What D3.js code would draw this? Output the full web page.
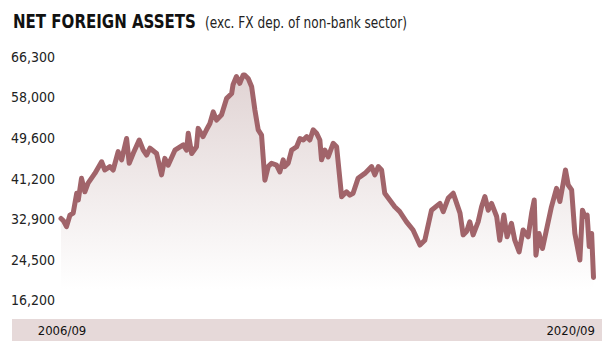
<!DOCTYPE html>
<html>
<head>
<meta charset="utf-8">
<script src="https://cdn.jsdelivr.net/npm/d3@7"></script>
<style>
  html, body { margin: 0; padding: 0; background: #ffffff; }
  svg { display: block; }
  text { font-family: "Liberation Sans Narrow", "DejaVu Sans Condensed", "Roboto", sans-serif; }
</style>
</head>
<body>
<svg id="chart" width="611" height="356"></svg>
<script>
// ---- Data ----
const title = "NET FOREIGN ASSETS";
const subtitle = "(exc. FX dep. of non-bank sector)";

const dates = [
  "2006-09-01","2006-09-25","2006-10-24","2006-11-26","2006-12-27","2007-01-30","2007-02-14","2007-03-17",
  "2007-04-18","2007-05-19","2007-07-23","2007-09-26","2007-10-27","2007-12-14","2008-01-15","2008-03-03",
  "2008-04-05","2008-05-23","2008-06-17","2008-07-25","2008-09-21","2008-10-30","2008-12-01","2009-01-03",
  "2009-03-07","2009-04-24","2009-05-25","2009-06-26","2009-08-30","2009-11-18","2009-12-20","2010-01-05",
  "2010-02-07","2010-03-25","2010-04-10","2010-05-27","2010-06-29","2010-08-01","2010-09-02","2010-10-04",
  "2010-11-21","2011-01-09","2011-02-26","2011-03-11","2011-04-13","2011-05-15","2011-06-16","2011-07-01",
  "2011-08-04","2011-09-06","2011-10-07","2011-11-08","2011-12-10","2012-01-11","2012-02-12","2012-03-15",
  "2012-05-02","2012-06-03","2012-07-05","2012-07-21","2012-08-22","2012-09-24","2012-11-11","2012-12-13",
  "2013-01-14","2013-02-16","2013-03-18","2013-04-19","2013-05-21","2013-06-22","2013-07-08","2013-08-09",
  "2013-09-10","2013-10-28","2013-11-30","2014-01-17","2014-03-05","2014-04-06","2014-05-07","2014-06-24",
  "2014-08-28","2014-11-01","2014-12-02","2015-01-04","2015-02-05","2015-03-07","2015-04-24","2015-06-11",
  "2015-07-29","2015-10-02","2015-12-04","2016-02-08","2016-03-26","2016-05-29","2016-08-18","2016-09-19",
  "2016-11-06","2016-12-24","2017-01-26","2017-02-27","2017-03-29","2017-05-01","2017-06-01","2017-07-03",
  "2017-08-20","2017-09-22","2017-10-24","2017-11-25","2017-12-27","2018-02-14","2018-03-16","2018-04-24",
  "2018-05-25","2018-07-06","2018-08-07","2018-09-18","2018-10-26","2018-12-13","2019-01-16","2019-02-10",
  "2019-02-26","2019-03-28","2019-04-30","2019-06-07","2019-07-25","2019-09-12","2019-10-14","2019-11-15",
  "2019-12-07","2020-01-02","2020-02-04","2020-03-06","2020-04-23","2020-05-18","2020-06-10","2020-07-02",
  "2020-07-22","2020-08-14","2020-09-01"
];

const values = [
  32900,32400,31200,33600,34000,38100,36700,41200,
  38400,40200,42200,44600,42900,43600,42900,46700,
  45000,49400,44300,46300,49100,47000,46000,47400,
  46300,41900,45300,43900,47000,48100,47000,50500,
  46300,47700,51500,49800,51200,52500,54900,53200,
  54300,57700,58700,60500,62200,60800,62500,62500,
  61800,60100,55300,51200,50100,40800,43600,44300,
  43900,42500,45000,43600,44300,47000,47700,49400,
  49100,49800,49100,51200,50500,49100,45000,47000,
  45600,48400,47700,37400,38400,37700,38100,41200,
  42200,43600,41900,43600,42900,38100,36700,35300,
  34300,32200,30500,27400,28400,34600,36000,34300,
  37100,38100,36000,34000,29500,30200,32200,29500,
  32200,35300,37400,34600,36000,33300,28400,33600,
  29100,31900,28400,26000,30500,29100,34000,36700,
  25300,29800,26700,30500,35300,39100,36400,40200,
  42900,39800,38800,29800,24300,34600,33300,33600,
  27100,29800,20700
];

const yTicks = [16200, 24500, 32900, 41200, 49600, 58000, 66300];
const xLabels = ["2006/09", "2020/09"];
const xDomain = ["2006-09-01", "2020-09-01"];

// ---- Drawing ----
const parse = d3.timeParse("%Y-%m-%d");
const data = dates.map((d, i) => ({ date: parse(d), value: values[i] }));

const svg = d3.select("#chart");

const x = d3.scaleTime()
  .domain(xDomain.map(parse))
  .range([61, 593.5]);

const y = d3.scaleLinear()
  .domain([yTicks[0], yTicks[yTicks.length - 1]])
  .range([299.3, 56.7]);

// gradient for area
const defs = svg.append("defs");
const grad = defs.append("linearGradient")
  .attr("id", "areaGrad")
  .attr("gradientUnits", "userSpaceOnUse")
  .attr("x1", 0).attr("x2", 0)
  .attr("y1", y(yTicks[yTicks.length - 1])).attr("y2", y(yTicks[0]) - 10);
grad.append("stop").attr("offset", "0%").attr("stop-color", "#ded0d0");
grad.append("stop").attr("offset", "100%").attr("stop-color", "#ffffff");

// helper: fit a text horizontally into a given width by scaling the glyphs
function fitText(sel, x0, baseY, width) {
  const natural = sel.node().getComputedTextLength();
  const k = width / natural;
  sel.attr("x", 0).attr("y", 0)
     .attr("transform", `translate(${x0},${baseY}) scale(${k},1)`);
}

// Title
const t1 = svg.append("text")
  .attr("font-size", 20)
  .attr("font-weight", "bold")
  .attr("fill", "#111")
  .text(title);
fitText(t1, 13, 27.5, 183);

const t2 = svg.append("text")
  .attr("font-size", 16)
  .attr("fill", "#222")
  .text(subtitle);
fitText(t2, 205, 27.5, 202);

// Y axis labels
const yAxis = d3.axisLeft(y)
  .tickValues(yTicks)
  .tickFormat(d3.format(","))
  .tickSize(0)
  .tickPadding(0);
const gy = svg.append("g")
  .attr("transform", "translate(55,0)")
  .call(yAxis);
gy.select(".domain").remove();
gy.selectAll("text")
  .attr("font-family", "\"Liberation Sans Narrow\", \"DejaVu Sans Condensed\", sans-serif")
  .attr("font-size", 14)
  .attr("fill", "#222")
  .attr("dy", "0.36em");

// Area
const area = d3.area()
  .x(d => x(d.date))
  .y0(y(yTicks[0]))
  .y1(d => y(d.value))
  .curve(d3.curveLinear);
svg.append("path")
  .datum(data)
  .attr("d", area)
  .attr("fill", "url(#areaGrad)");

// Line
const line = d3.line()
  .x(d => x(d.date))
  .y(d => y(d.value))
  .curve(d3.curveLinear);
svg.append("path")
  .datum(data)
  .attr("d", line)
  .attr("fill", "none")
  .attr("stroke", "#a1646a")
  .attr("stroke-width", 5)
  .attr("stroke-linejoin", "round")
  .attr("stroke-linecap", "round");

// Bottom band with date labels
svg.append("rect")
  .attr("x", 12).attr("y", 319)
  .attr("width", 590).attr("height", 22)
  .attr("fill", "#e6d9d9");

svg.append("text")
  .attr("x", x(parse(xDomain[0])) + 1).attr("y", 335)
  .attr("text-anchor", "middle")
  .attr("font-size", 13)
  .attr("fill", "#111")
  .text(xLabels[0]);
svg.append("text")
  .attr("x", 595).attr("y", 335)
  .attr("text-anchor", "end")
  .attr("font-size", 13)
  .attr("fill", "#111")
  .text(xLabels[1]);
</script>
</body>
</html>
